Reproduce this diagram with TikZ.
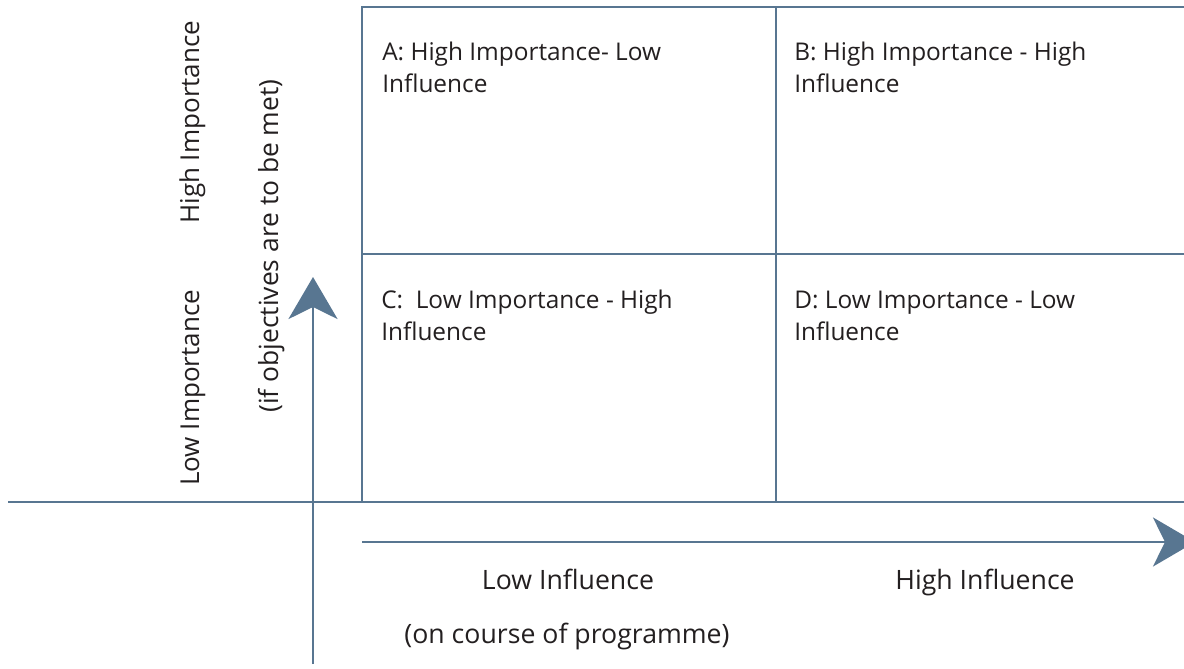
\documentclass[tikz,border=0pt]{standalone}
\usepackage{fontspec}
\setmainfont{Open Sans}
\usetikzlibrary{arrows.meta}
\definecolor{linec}{HTML}{587691}
\definecolor{textc}{HTML}{231F20}
\begin{document}
\begin{tikzpicture}[x=0.75pt,y=-0.75pt,
  gridline/.style={draw=linec,line width=2.2pt},
  axisline/.style={draw=linec,line width=2.2pt},
  axisarrow/.style={draw=linec,line width=2.2pt,-{Stealth[length=31.5pt,width=36.75pt,inset=9pt,fill=linec]}},
  celltext/.style={anchor=base west,inner sep=0pt,text=textc,font=\fontsize{18.3}{24}\selectfont,align=left},
  axistext/.style={anchor=base,inner sep=0pt,text=textc,font=\fontsize{20}{24}\selectfont},
  sidetext/.style={anchor=base west,inner sep=0pt,text=textc,font=\fontsize{19.5}{24}\selectfont,rotate=90}]
\useasboundingbox (0,0) rectangle (1184,668);
\clip (0,0) rectangle (1184,668);
\fill[white] (0,0) rectangle (1184,668);
% grid coordinates
\coordinate (tl) at (362,7);
\coordinate (tr) at (1190,7);
\coordinate (tm) at (776,7);
\coordinate (bm) at (776,502);
\coordinate (ml) at (362,254);
\coordinate (mr) at (1190,254);
\coordinate (bl) at (362,502);
\coordinate (hxl) at (8,502);
\coordinate (hxr) at (1190,502);
\coordinate (vb) at (313,664);
\coordinate (vt) at (313,277);
\coordinate (ha) at (362,542);
\coordinate (hb) at (1195,542);
% grid
\draw[gridline] (tr) -- (tl) -- (bl);
\draw[gridline] (tm) -- (bm);
\draw[gridline] (ml) -- (mr);
\draw[axisline] (hxl) -- (hxr);
% arrows
\draw[axisarrow] (vb) -- (vt);
\draw[axisarrow] (ha) -- (hb);
% cell texts (anchor = baseline of last line)
\node[celltext] (A) at (382,92) {A: High Importance- Low\\Influence};
\node[celltext] (B) at (794,92) {B: High Importance - High\\Influence};
\node[celltext] (C) at (381,340) {C:\ \ Low Importance - High\\Influence};
\node[celltext] (D) at (794,340) {D: Low Importance - Low\\Influence};
% side texts
\node[sidetext] (hi) at (199,224) {High Importance};
\node[sidetext] (li) at (199,486) {Low Importance};
\node[sidetext,anchor=base,font=\fontsize{19.8}{24}\selectfont] (obj) at (278,246) {(if objectives are to be met)};
% bottom texts
\node[axistext] (lowinf) at (568,589) {Low Influence};
\node[axistext] (highinf) at (985,589) {High Influence};
\node[axistext] (course) at (567,643) {(on course of programme)};
\end{tikzpicture}
\end{document}
